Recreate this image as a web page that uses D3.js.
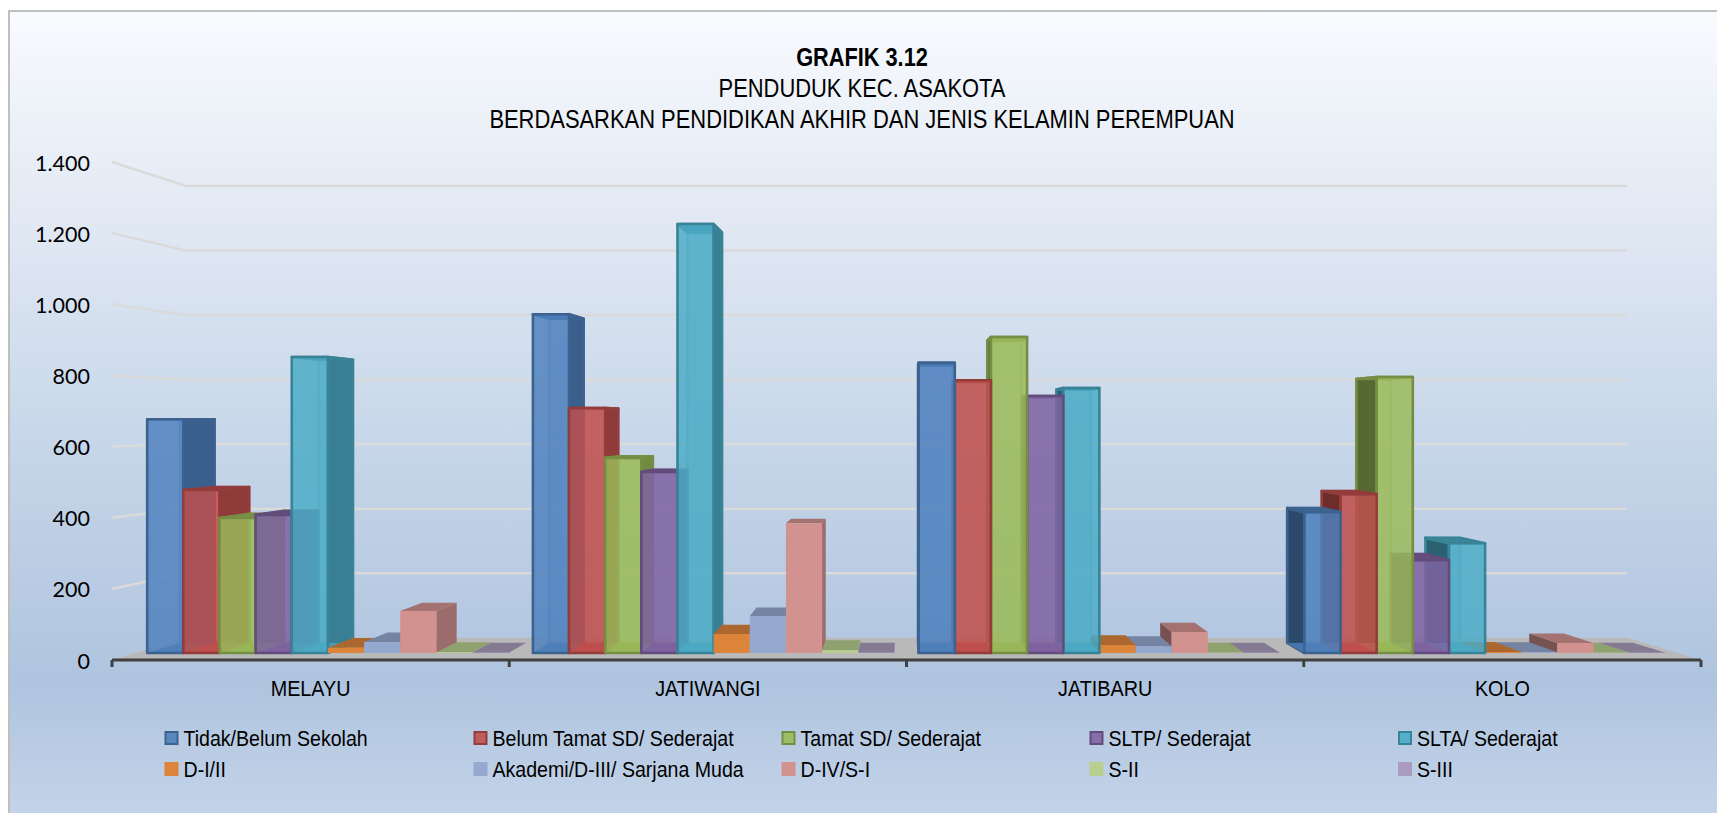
<!DOCTYPE html>
<html><head><meta charset="utf-8">
<script src="https://cdn.jsdelivr.net/npm/d3@7"></script>
<style>html,body{margin:0;padding:0;background:#fff;overflow:hidden}svg{display:block}</style>
</head><body><svg id="c" width="1717" height="813"></svg>
<script>
const categories = ["MELAYU","JATIWANGI","JATIBARU","KOLO"];
const seriesNames = ["Tidak/Belum Sekolah","Belum Tamat SD/ Sederajat","Tamat SD/ Sederajat","SLTP/ Sederajat","SLTA/ Sederajat","D-I/II","Akademi/D-III/ Sarjana Muda","D-IV/S-I","S-II","S-III"];
const melayu    = [677,472,391,400,857,15,32,122,2,1];
const jatiwangi = [981,709,565,524,1242,55,107,376,8,1];
const jatibaru  = [840,790,915,744,767,23,20,61,1,1];
const kolo      = [408,460,799,269,318,3,2,29,1,1];
const yTicks = [0,200,400,600,800,1000,1200,1400];
const tickFmt = ["0","200","400","600","800","1.000","1.200","1.400"];
const colours = ["#4f81bd","#c0504d","#9bbb59","#8064a2","#4bacc6","#dd843b","#95a9d0","#d29290","#b9cf8f","#a99cbe"];
const byCat = [melayu,jatiwangi,jatibaru,kolo];

const svg = d3.select("#c");
const defs = svg.append("defs");
const lg = defs.append("linearGradient").attr("id","bg").attr("x1",0).attr("x2",0).attr("y1",0).attr("y2",1);
[[0,"#f8fbfe"],[.25,"#e2e9f4"],[.5,"#c9d8ea"],[.82,"#afc4df"],[1,"#c6d6ea"]].forEach(s=>lg.append("stop").attr("offset",s[0]).attr("stop-color",s[1]));
svg.append("rect").attr("x",9).attr("y",11).attr("width",1720).attr("height",820).attr("fill","url(#bg)").attr("stroke","#bfbfbf").attr("stroke-width",2);

// projection: front plane of the chart box, vanishing point
const vp = {x:906.5,y:420}, sBack = .907, sF = .971, sB = .929;
const x0 = d3.scaleBand().domain(categories).range([112,1701]).paddingInner(0).paddingOuter(0);
const xBar = d3.scaleBand().domain(d3.range(10)).range([0,x0.bandwidth()]).paddingOuter(.336).paddingInner(0);
const y = d3.scaleLinear().domain([0,1400]).range([660,162]);
const P = (X,Y,s)=>[vp.x+(X-vp.x)*s, vp.y+(Y-vp.y)*s];
const poly = pts => "M"+pts.map(p=>p.join(",")).join("L")+"Z";
const shade = (c,k)=>{const h=d3.rgb(c);return d3.rgb(h.r*k,h.g*k,h.b*k).formatHex();};

// floor
const xl=x0.range()[0], xr=x0.range()[1];
svg.append("path").attr("d",poly([P(xl,y(0),1),P(xr,y(0),1),P(xr,y(0),sBack),P(xl,y(0),sBack)])).attr("fill","#b9b9b9");
// wall gridlines
const grid = svg.append("g").attr("fill","none").attr("stroke","#dadada").attr("stroke-width",2.5);
yTicks.slice(1).forEach(t=>{
  grid.append("path").attr("d",d3.line()([P(xl,y(t),1),P(xl,y(t),sBack),P(xr,y(t),sBack)]));
});
// axis line and ticks
const ax = svg.append("g").attr("stroke","#404040");
ax.append("line").attr("x1",xl).attr("x2",xr).attr("y1",y(0)).attr("y2",y(0)).attr("stroke-width",3);
[0,1,2,3,4].forEach(i=>{const X=xl+i*x0.bandwidth();
  ax.append("line").attr("x1",X).attr("x2",X).attr("y1",y(0)).attr("y2",y(0)+7).attr("stroke-width",3);});

// bars
const barsG = svg.append("g");
function drawBar(X,W,v,si){
  const c=colours[si], top=y(v), base=y(0), outlined=si<5;
  const stroke=outlined?shade(c,.76):"none";
  const left = X+W<vp.x; // right side is visible when the bar sits left of the vanishing point
  const g=barsG.append("g").attr("stroke",stroke).attr("stroke-width",outlined?2.6:0).attr("stroke-linejoin","round");
  const a=outlined?.84:1;
  const sideX = left?X+W:X;
  // back of the box seen through the glass
  if(outlined){
    g.append("path").attr("d",poly([P(X,base,sB),P(X+W,base,sB),P(X+W,top,sB),P(X,top,sB)])).attr("fill",c).attr("fill-opacity",.22).attr("stroke-opacity",.35);
  }
  g.append("path").attr("d",poly([P(sideX,base,sF),P(sideX,base,sB),P(sideX,top,sB),P(sideX,top,sF)])).attr("fill",shade(c,left?.74:.56));
  g.append("path").attr("d",poly([P(X,top,sF),P(X+W,top,sF),P(X+W,top,sB),P(X,top,sB)])).attr("fill",shade(c,.78));
  if(outlined){
    g.append("path").attr("d",poly([P(X,base,sF),P(X+W,base,sF),P(X+W,base,sB),P(X,base,sB)])).attr("fill",shade(c,.9)).attr("stroke","none");
  }
  g.append("path").attr("d",poly([P(X,base,sF),P(X+W,base,sF),P(X+W,top,sF),P(X,top,sF)])).attr("fill",c).attr("fill-opacity",a);
}
categories.forEach((cat,ci)=>{
  const idx=d3.range(10).map(si=>({si,X:x0(cat)+xBar(si)}));
  const W=xBar.bandwidth();
  // bars farthest from the vanishing point are painted first
  idx.sort((a,b)=>Math.abs(b.X+W/2-vp.x)-Math.abs(a.X+W/2-vp.x));
  idx.forEach(d=>drawBar(d.X,W,byCat[ci][d.si],d.si));
});

// text: the reference uses a condensed sans, so the glyphs are squeezed horizontally
const sans="'Liberation Sans',Arial,sans-serif";
const T=(x,yy,s,o={})=>svg.append("text").text(s)
  .attr("transform",`translate(${x},${yy}) scale(${o.k||1},1)`)
  .attr("font-family",o.f||sans).attr("font-size",o.z||22).attr("font-weight",o.b?"700":"400")
  .attr("text-anchor",o.a||"middle").attr("fill","#000");
T(862,66,"GRAFIK 3.12",{b:1,z:25,k:.87});
T(862,97,"PENDUDUK KEC. ASAKOTA",{z:25,k:.877});
T(862,128,"BERDASARKAN PENDIDIKAN AKHIR DAN JENIS KELAMIN PEREMPUAN",{z:25,k:.877});
yTicks.forEach((t,i)=>T(90,y(t)+8.5,tickFmt[i],{a:"end",f:"Lato,sans-serif",z:21.5}));
categories.forEach(c=>T(x0(c)+x0.bandwidth()/2,696,c,{k:.9}));

// legend
const legX=[164.5,473.5,781.5,1089.5,1398], legY=[745,776];
seriesNames.forEach((n,i)=>{
  const col=i%5,row=Math.floor(i/5),c=colours[i];
  svg.append("rect").attr("x",legX[col]+(i<5?1:0)).attr("y",legY[row]-14+(i<5?1:0)).attr("width",i<5?12:14).attr("height",i<5?12:14)
    .attr("fill",c).attr("fill-opacity",i<5?.9:1).attr("stroke",i<5?shade(c,.76):"none").attr("stroke-width",i<5?2:0);
  T(legX[col]+19,legY[row]+1,n,{a:"start",k:.89});
});
</script></body></html>
